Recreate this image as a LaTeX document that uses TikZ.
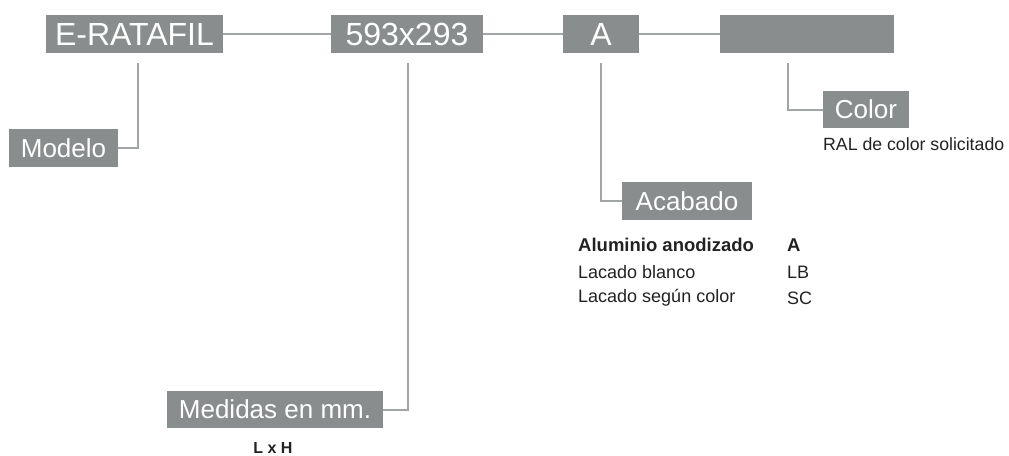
\documentclass[tikz,border=0pt]{standalone}
\usepackage{fontspec}
\setmainfont{Liberation Sans}
\definecolor{boxgray}{HTML}{8A8D8D}
\definecolor{linegray}{HTML}{A2A5A5}
\definecolor{txt}{HTML}{222222}
\begin{document}
\begin{tikzpicture}[x=1pt,y=-1pt,
  gbox/.style={fill=boxgray,text=white,inner sep=0pt,anchor=center},
  topbox/.style={gbox,minimum height=38pt,font=\fontsize{32}{38}\selectfont},
  subbox/.style={gbox,minimum height=37.5pt,font=\fontsize{26}{31}\selectfont},
  conn/.style={draw=linegray,line width=2pt},
  small/.style={anchor=west,inner sep=0pt,text=txt,font=\fontsize{18}{21}\selectfont},
  smallb/.style={small,font=\fontsize{18.5}{21}\selectfont\bfseries},
  lbl/.style={anchor=west,inner sep=0pt,text=txt,font=\fontsize{17.7}{21}\selectfont}]
\useasboundingbox (0,0) rectangle (1009,455);
% top boxes
\node[topbox,minimum width=177pt] (era) at (134.5,34) {E-RATAFIL};
\node[topbox,minimum width=152pt] (dim) at (407,34) {593x293};
\node[topbox,minimum width=76pt] (fin) at (601,34) {A};
\node[topbox,minimum width=174pt] (ral) at (807,34) {};
\draw[conn] (era.east) -- (dim.west);
\draw[conn] (dim.east) -- (fin.west);
\draw[conn] (fin.east) -- (ral.west);
% sub boxes
\node[subbox,minimum width=109pt] (mod) at (63.5,148) {Modelo};
\node[subbox,minimum width=216pt] (med) at (275,409.5) {Medidas en mm.};
\node[subbox,minimum width=130pt] (acab) at (687,201) {Acabado};
\node[subbox,minimum width=86pt] (col) at (866,109.5) {Color};
% connector tops
\coordinate (c1) at (138,63);
\coordinate (c2) at (408,63);
\coordinate (c3) at (601,63);
\coordinate (c4) at (788,63);
\draw[conn] (mod.east) -| (c1);
\draw[conn] (med.east) -| (c2);
\draw[conn] (acab.west) -| (c3);
\draw[conn] (col.west) -| (c4);
% texts
\node[lbl] (ralt) at (823,144) {RAL de color solicitado};
\node[smallb] (r1a) at (578,245) {Aluminio anodizado};
\node[smallb] (r1b) at (787,245) {A};
\node[small] (r2a) at (578,272) {Lacado blanco};
\node[small] (r2b) at (787,272) {LB};
\node[small] (r3a) at (578,298) {Lacado según color};
\node[small] (r3b) at (787,298) {SC};
\node[inner sep=0pt,text=txt,font=\fontsize{16}{19}\selectfont\bfseries] (lxh) at (273,448) {L x H};
\end{tikzpicture}
\end{document}
